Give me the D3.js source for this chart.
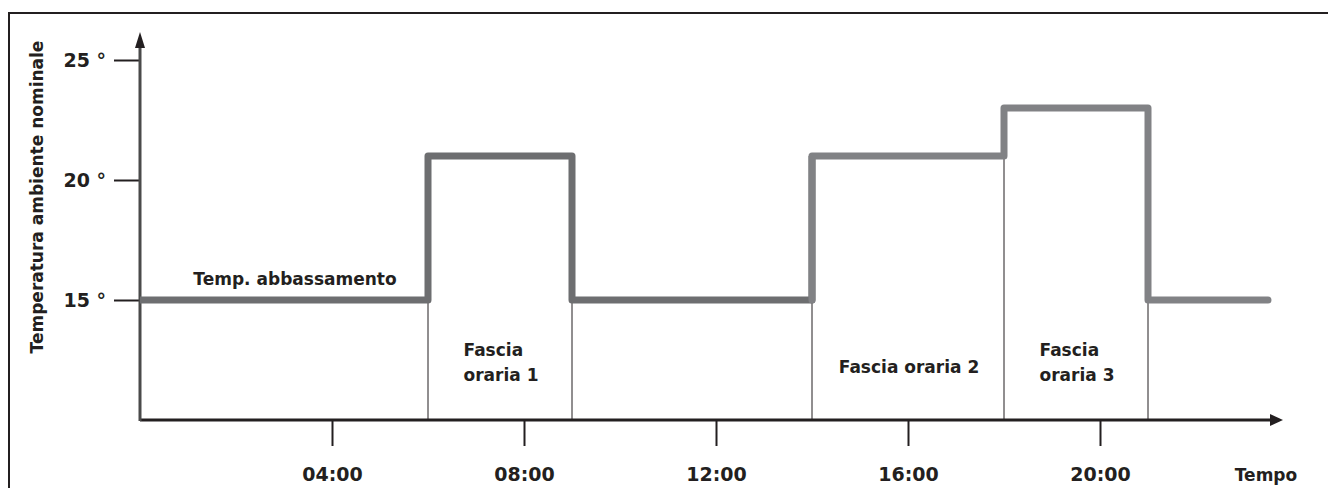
<!DOCTYPE html>
<html>
<head>
<meta charset="utf-8">
<script src="https://cdn.jsdelivr.net/npm/d3@7"></script>
<style>
  body { margin: 0; background: #fff; }
  text { font-family: "DejaVu Sans", "Open Sans", sans-serif; font-weight: 700; fill: #231f20; }
</style>
</head>
<body>
<svg id="chart" width="1328" height="488"></svg>
<script>
// --- dati ---
const hours = [0, 6, 9, 14, 18, 21, 23.5];        // istanti di cambio (ore)
const setpoints = [15, 21, 15, 21, 23, 15];        // temperatura per ogni tratto
const splitHour = 14;                              // da qui il tratto è più chiaro
const yTicks = [15, 20, 25];
const xTicks = [4, 8, 12, 16, 20];
const xTickLabels = ["04:00", "08:00", "12:00", "16:00", "20:00"];
const bands = [
  { label: ["Fascia", "oraria 1"], from: 6, to: 9 },
  { label: ["Fascia oraria 2"], from: 14, to: 18 },
  { label: ["Fascia", "oraria 3"], from: 18, to: 21 }
];

const svg = d3.select("#chart");

// cornice
svg.append("rect")
  .attr("x", 9).attr("y", 13)
  .attr("width", 1340).attr("height", 500)
  .attr("fill", "none").attr("stroke", "#231f20").attr("stroke-width", 2);

const x = d3.scaleLinear().domain([0, 24]).range([140, 1292]);
const y = d3.scaleLinear().domain([10, 25]).range([420, 60]);

// tratti a gradini
const steps = [];
setpoints.forEach((v, i) => {
  steps.push([hours[i], v]);
  steps.push([hours[i + 1], v]);
});
const firstPart = steps.filter(d => d[0] <= splitHour);
const secondPart = steps.filter(d => d[0] >= splitHour);

const line = d3.line().x(d => x(d[0])).y(d => y(d[1]));

// linee verticali sottili ai cambi
const changes = hours.slice(1, -1).map((h, i) => ({ h: h, v: Math.min(setpoints[i], setpoints[i + 1]) }));
svg.append("g").selectAll("line")
  .data(changes)
  .enter()
  .append("line")
  .attr("x1", d => x(d.h)).attr("x2", d => x(d.h))
  .attr("y1", d => y(d.v)).attr("y2", y(10))
  .attr("stroke", "#231f20").attr("stroke-width", 1);

// assi
const yAxis = d3.axisLeft(y).tickValues(yTicks).tickSize(26).tickPadding(8)
  .tickFormat(d => d + " °");
const gy = svg.append("g").attr("transform", `translate(${x(0)},0)`).call(yAxis);
gy.select(".domain").remove();
gy.selectAll(".tick line").attr("stroke", "#231f20").attr("stroke-width", 2);
gy.selectAll(".tick text").style("font-size", "19px").attr("fill", "#231f20");

const xAxis = d3.axisBottom(x).tickValues(xTicks).tickSize(26).tickPadding(22)
  .tickFormat((d, i) => xTickLabels[i]);
const gx = svg.append("g").attr("transform", `translate(0,${y(10)})`).call(xAxis);
gx.select(".domain").remove();
gx.selectAll(".tick line").attr("stroke", "#231f20").attr("stroke-width", 2);
gx.selectAll(".tick text").style("font-size", "19px").attr("fill", "#231f20");

// linee degli assi con freccia
svg.append("line")
  .attr("x1", x(0)).attr("y1", y(10)).attr("x2", 1272).attr("y2", y(10))
  .attr("stroke", "#231f20").attr("stroke-width", 3);
svg.append("path")
  .attr("d", `M1270,${y(10) - 6}L1283,${y(10)}L1270,${y(10) + 6}Z`)
  .attr("fill", "#231f20");
svg.append("line")
  .attr("x1", x(0)).attr("y1", y(10) + 1).attr("x2", x(0)).attr("y2", 46)
  .attr("stroke", "#4a4a4a").attr("stroke-width", 3);
svg.append("path")
  .attr("d", `M${x(0) - 5},48L${x(0)},32L${x(0) + 5},48Z`)
  .attr("fill", "#231f20");

// gradini
svg.append("path")
  .attr("d", line(firstPart))
  .attr("fill", "none").attr("stroke", "#6d6e70").attr("stroke-width", 7)
  .attr("stroke-linejoin", "round");
svg.append("path")
  .attr("d", line(secondPart))
  .attr("fill", "none").attr("stroke", "#818285").attr("stroke-width", 7)
  .attr("stroke-linejoin", "round").attr("stroke-linecap", "round");

// etichette
svg.append("text")
  .attr("x", 295).attr("y", 285)
  .attr("text-anchor", "middle").style("font-size", "17px")
  .text("Temp. abbassamento");

bands.forEach(b => {
  const cx = (x(b.from) + x(b.to)) / 2;
  const n = b.label.length;
  const t = svg.append("text").style("font-size", "17px");
  b.label.forEach((s, i) => {
    t.append("tspan")
      .attr("y", n === 1 ? 373 : 356 + i * 25)
      .text(s);
  });
  // blocco centrato, righe allineate a sinistra
  const w = d3.max(t.selectAll("tspan").nodes(), nd => nd.getComputedTextLength());
  t.selectAll("tspan").attr("x", cx - w / 2 + 1);
});

svg.append("text")
  .attr("x", 1266).attr("y", 481)
  .attr("text-anchor", "middle").style("font-size", "17px")
  .text("Tempo");

svg.append("text")
  .attr("transform", `translate(43,197) rotate(-90)`)
  .attr("text-anchor", "middle").style("font-size", "17px")
  .text("Temperatura ambiente nominale");
</script>
</body>
</html>
